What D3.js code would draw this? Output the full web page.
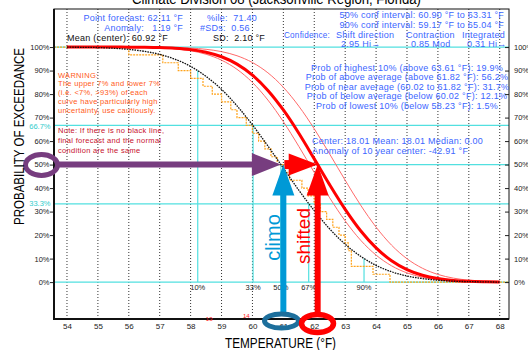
<!DOCTYPE html>
<html>
<head>
<meta charset="utf-8">
<script src="https://cdn.jsdelivr.net/npm/d3@7"></script>
<style>
  body { margin: 0; background: #fff; }
  svg { display: block; font-family: "Liberation Sans", Arial, sans-serif; }
</style>
</head>
<body>
<svg id="chart" width="528" height="350"></svg>
<script>
// temperature grid (°F) and exceedance probability (%)
const temps = [54, 54.5, 55, 55.5, 56, 56.5, 57, 57.5, 58, 58.5, 59, 59.5, 60, 60.5, 61,
  61.5, 62, 62.5, 63, 63.5, 64, 64.5, 65, 65.5, 66, 66.5, 67, 67.5, 68];
const climoProb = [99.95, 99.9, 99.8, 99.5, 99.0, 98.2, 96.9, 94.8, 91.8, 87.5, 82.0, 75.0, 66.9, 57.9, 48.5,
  39.1, 30.4, 22.6, 16.1, 11.0, 7.1, 4.4, 2.6, 1.5, 0.8, 0.4, 0.2, 0.1, 0.0];
const forecastProb = [100, 100, 100, 99.99, 99.97, 99.91, 99.78, 99.5, 98.92, 97.82, 95.88, 92.76, 88.08, 81.57, 73.24,
  63.34, 52.43, 41.37, 30.96, 21.86, 14.55, 9.09, 5.32, 2.91, 1.49, 0.71, 0.31, 0.13, 0.05];
const lowerProb = [100, 100, 99.99, 99.98, 99.95, 99.86, 99.66, 99.25, 98.43, 96.94, 94.43, 90.54, 84.94, 77.46, 68.26,
  57.76, 46.65, 35.83, 26.04, 17.83, 11.49, 6.94, 3.92, 2.07, 1.02, 0.47, 0.2, 0.08, 0.03];
const upperProb = [100, 100, 100, 100, 99.99, 99.97, 99.93, 99.82, 99.57, 99.05, 98.06, 96.31, 93.42, 89.05, 82.89,
  74.86, 65.21, 54.46, 43.33, 32.74, 23.39, 15.72, 9.94, 5.89, 3.26, 1.69, 0.82, 0.37, 0.15];

// observed values behind the orange step line
const observed = [56.0, 57.1, 57.6, 58.0, 58.4, 58.7, 59.0, 59.3, 59.5, 59.8, 60.0, 60.2, 60.4, 60.6, 60.8,
  61.0, 61.2, 61.6, 61.8, 62.0, 62.2, 62.4, 62.6, 62.8, 63.0, 63.1, 63.2, 63.2, 63.9, 64.45];

const tempTicks = [54, 55, 56, 57, 58, 59, 60, 61, 62, 63, 64, 65, 66, 67, 68];
const probTicks = [0, 10, 20, 30, 40, 50, 60, 70, 80, 90, 100];
const refLines = [0, 33.3, 50, 66.7, 100];
const pctLabels = ["10%", "33%", "50%", "67%", "90%"];
const pctTemps = [58.23, 60.02, 60.92, 61.82, 63.61];
const pctProb = [90, 67, 50, 33, 10];
const countLabels = ["13", "14"];
const countTemps = [58.6, 59.8];

const infoLeft = ["Point forecast: 62.11 °F", "Anomaly:   1.19 °F", "Mean (center): 60.92 °F"];
const infoMid = ["%ile:  71.40", "#SDs:  0.56", "SD:  2.10 °F"];
const infoRight = ["50% conf interval: 60.90 °F to 63.31 °F", "90% conf interval: 59.17 °F to 65.04 °F"];
const confHeads = ["Confidence:", "Shift direction", "Contraction", "Integrated"];
const confValues = ["2.95 Hi→", "0.85 Mod", "0.31 Hi→"];
const probLines = [
  "Prob of highest 10% (above 63.61 °F): 19.9%",
  "Prob of above average (above 61.82 °F): 56.2%",
  "Prob of near average (60.02 to 61.82 °F): 31.7%",
  "Prob of below average (below 60.02 °F): 12.1%",
  "Prob of lowest 10% (below 58.23 °F): 1.5%"
];
const centerLines = ["Center: 18.01 Mean: 18.01 Median: 0.00", "Anomaly of 10 year center: -42.91 °F"];
const warningLines = ["WARNING:", "The upper 7% and lower 7%", "(i.e. <7%, >93%) of each",
  "curve have particularly high", "uncertainty, use cautiously."];
const noteLines = ["Note: If there is no black line,", "final forecast and the normal", "condition are the same"];

const svg = d3.select("#chart");
const pl = 54, pr = 509, pt = 9, pb = 319;

const x = d3.scaleLinear().domain([53.58, 68.3]).range([pl, pr]);
const y = d3.scaleLinear().domain([-15.7, 116.2]).range([pb, pt]);

const cyan = "#52e0e0", blue = "#3b66ff", purple = "#773d7f", arrowBlue = "#0099d6";

// title (mostly cut off at the top)
svg.append("text").attr("x", 132).attr("y", 4).attr("font-size", 14)
  .attr("textLength", 289).attr("lengthAdjust", "spacingAndGlyphs")
  .text("Climate Division 08 (Jacksonville Region, Florida)");

// dotted vertical grid
svg.append("g").selectAll("line").data(tempTicks).join("line")
  .attr("x1", d => x(d)).attr("x2", d => x(d))
  .attr("y1", pt).attr("y2", pb)
  .attr("stroke", "#333").attr("stroke-width", 1).attr("stroke-dasharray", "1,2");

// cyan reference lines
svg.append("g").selectAll("line").data(refLines).join("line")
  .attr("x1", pl).attr("x2", pr)
  .attr("y1", d => y(d)).attr("y2", d => y(d))
  .attr("stroke", cyan).attr("stroke-width", 1.2);

svg.append("g").selectAll("line").data(pctTemps).join("line")
  .attr("x1", d => x(d)).attr("x2", d => x(d))
  .attr("y1", y(0)).attr("y2", (d, i) => y(pctProb[i]))
  .attr("stroke", cyan).attr("stroke-width", 1.2);

svg.append("g").selectAll("text").data(pctLabels).join("text")
  .attr("x", (d, i) => x(pctTemps[i])).attr("y", y(0) + 7.5)
  .attr("text-anchor", "middle").attr("font-size", 7.5).attr("fill", "#222")
  .text(d => d);

svg.append("g").selectAll("text").data([66.7, 33.3]).join("text")
  .attr("x", pl - 3.5).attr("y", d => y(d) + (d > 50 ? 3.4 : 2.0))
  .attr("text-anchor", "end").attr("font-size", 7.5).attr("fill", "#33cccc")
  .text(d => d + "%");

// curves
const curve = d3.line().x((d, i) => x(temps[i])).y(d => y(d)).curve(d3.curveMonotoneX);
const n = observed.length;
const steps = [[x.domain()[0], 100]]
  .concat(observed.map((t, i) => [t, 100 * (n - 1 - i) / n]), [[x.domain()[1], 0]]);

svg.append("path").datum(steps)
  .attr("d", d3.line().x(d => x(d[0])).y(d => y(d[1])).curve(d3.curveStepAfter))
  .attr("fill", "none").attr("stroke", "#ffa31a").attr("stroke-width", 1.2).attr("stroke-dasharray", "2,1");

[lowerProb, upperProb].forEach(p => {
  svg.append("path").datum(p).attr("d", curve)
    .attr("fill", "none").attr("stroke", "#ff6a6a").attr("stroke-width", 1);
});
svg.append("path").datum(forecastProb).attr("d", curve)
  .attr("fill", "none").attr("stroke", "#ff0000").attr("stroke-width", 3);
svg.append("path").datum(climoProb).attr("d", curve)
  .attr("fill", "none").attr("stroke", "#111").attr("stroke-width", 1.3).attr("stroke-dasharray", "1.6,1");

// axes
const axL = svg.append("g").attr("transform", `translate(${pl},0)`)
  .call(d3.axisLeft(y).tickValues(probTicks).tickSize(4).tickPadding(0.5).tickFormat(d => d + "%"));
const axR = svg.append("g").attr("transform", `translate(${pr},0)`)
  .call(d3.axisRight(y).tickValues(probTicks).tickSize(-4).tickPadding(5).tickFormat(d => d + "%"));
const axB = svg.append("g").attr("transform", `translate(0,${pb})`)
  .call(d3.axisBottom(x).tickValues(tempTicks).tickSize(0).tickPadding(4.5).tickFormat(d => d));
[axL, axR, axB].forEach(a => {
  a.select(".domain").remove();
  a.attr("font-family", null).attr("font-size", null);
  a.selectAll("text").attr("font-size", 7.5).attr("fill", "#222");
  a.selectAll("line").attr("stroke", "#222");
});
axB.selectAll("text").attr("font-size", 8);

// frame
svg.append("rect").attr("x", pl).attr("y", pt).attr("width", pr - pl).attr("height", pb - pt)
  .attr("fill", "none").attr("stroke", "#111").attr("stroke-width", 1);
svg.append("path").attr("d", `M${pl},${pt}V${pb}H${pr}`)
  .attr("fill", "none").attr("stroke", "#111").attr("stroke-width", 2);

svg.append("g").selectAll("text").data(countLabels).join("text")
  .attr("x", (d, i) => x(countTemps[i])).attr("y", (d, i) => 320.5 - i * 2.5)
  .attr("text-anchor", "middle").attr("font-size", 6).attr("fill", "#ff2020")
  .text(d => d);

// info text blocks
const txt = (s, px, py, opt = {}) => {
  const t = svg.append("text")
    .attr("x", px).attr("y", py)
    .attr("xml:space", "preserve").style("white-space", "pre")
    .attr("text-anchor", opt.anchor || "start")
    .attr("font-size", opt.size || 9)
    .attr("letter-spacing", opt.ls == null ? 0.25 : opt.ls)
    .attr("fill", opt.fill || blue)
    .text(s);
  if (opt.len) t.attr("textLength", opt.len).attr("lengthAdjust", "spacingAndGlyphs");
  return t;
};

infoLeft.forEach((s, i) => txt(s, [183, 183, 168][i], [21, 31, 40.5][i], { anchor: "end", fill: i === 2 ? "#111" : blue }));
infoMid.forEach((s, i) => txt(s, 207 - [0, 7, -6][i], [21, 31, 40.5][i], { fill: i === 2 ? "#111" : blue }));
infoRight.forEach((s, i) => txt(s, 504, [18, 27.5][i], { anchor: "end" }));
confHeads.forEach((s, i) => txt(s, [284, 336, 406, 462][i], 37.5, { len: i === 0 ? 46 : null }));
confValues.forEach((s, i) => txt(s, [341, 411, 467][i], 46.5));
probLines.forEach((s, i) => txt(s, 407, 70.7 + i * 9.6 - (i > 2 ? 0.6 : 0), { anchor: "middle" }));
centerLines.forEach((s, i) => txt(s, 312, 143.5 + i * 10));
warningLines.forEach((s, i) => txt(s, 58, 77.5 + i * 8.8, { size: 7.5, ls: 0.3, fill: "#ff5a1a" }));
noteLines.forEach((s, i) => txt(s, 58, 132.5 + i * 10, { size: 7.5, ls: 0.3, fill: "#c8102e" }));

// annotation arrows and circles
const ym = y(50), xc = x(60.92), xf = x(62.11), xb = x(61);
const ann = svg.append("g");
ann.append("line").attr("x1", 58).attr("x2", xc - 26).attr("y1", ym).attr("y2", ym)
  .attr("stroke", purple).attr("stroke-width", 6);
ann.append("path").attr("d", `M${xc - 29},${ym - 11.5}L${xc},${ym}L${xc - 29},${ym + 11.5}Z`).attr("fill", purple);
ann.append("ellipse").attr("cx", 41.5).attr("cy", 165).attr("rx", 16).attr("ry", 10.5)
  .attr("fill", "none").attr("stroke", purple).attr("stroke-width", 5);

ann.append("line").attr("x1", xb + 1).attr("x2", xf - 26).attr("y1", ym).attr("y2", ym)
  .attr("stroke", "#ff0000").attr("stroke-width", 9);
ann.append("path").attr("d", `M${xf - 29},${ym - 11}L${xf},${ym}L${xf - 29},${ym + 11}Z`).attr("fill", "#ff0000");

[[xb, arrowBlue, 313], [xf, "#ff0000", 314]].forEach(([ax, col, y2]) => {
  ann.append("line").attr("x1", ax).attr("x2", ax).attr("y1", ym + 28).attr("y2", y2)
    .attr("stroke", col).attr("stroke-width", 6);
  ann.append("path").attr("d", `M${ax - 11},${ym + 31}L${ax},${ym}L${ax + 11},${ym + 31}Z`).attr("fill", col);
});

ann.append("ellipse").attr("cx", 281.5).attr("cy", 321).attr("rx", 17).attr("ry", 7)
  .attr("fill", "none").attr("stroke", "#1d6f9c").attr("stroke-width", 5);
ann.append("ellipse").attr("cx", 317.5).attr("cy", 323.5).attr("rx", 16).attr("ry", 9)
  .attr("fill", "none").attr("stroke", "#ff0000").attr("stroke-width", 5.5);

ann.append("text").attr("transform", "translate(280,237.5) rotate(-90)")
  .attr("text-anchor", "middle").attr("font-size", 20).attr("fill", arrowBlue).text("climo");
ann.append("text").attr("transform", "translate(310,236) rotate(-90)")
  .attr("text-anchor", "middle").attr("font-size", 19).attr("fill", "#ff0000").text("shifted");

// axis titles
svg.append("text").attr("transform", "translate(23.5,136.5) rotate(-90)")
  .attr("text-anchor", "middle").attr("font-size", 14.5)
  .attr("textLength", 177).attr("lengthAdjust", "spacingAndGlyphs")
  .text("PROBABILITY OF EXCEEDANCE");
svg.append("text").attr("x", 225).attr("y", 348).attr("font-size", 15)
  .attr("textLength", 111).attr("lengthAdjust", "spacingAndGlyphs")
  .text("TEMPERATURE (°F)");
</script>
</body>
</html>
